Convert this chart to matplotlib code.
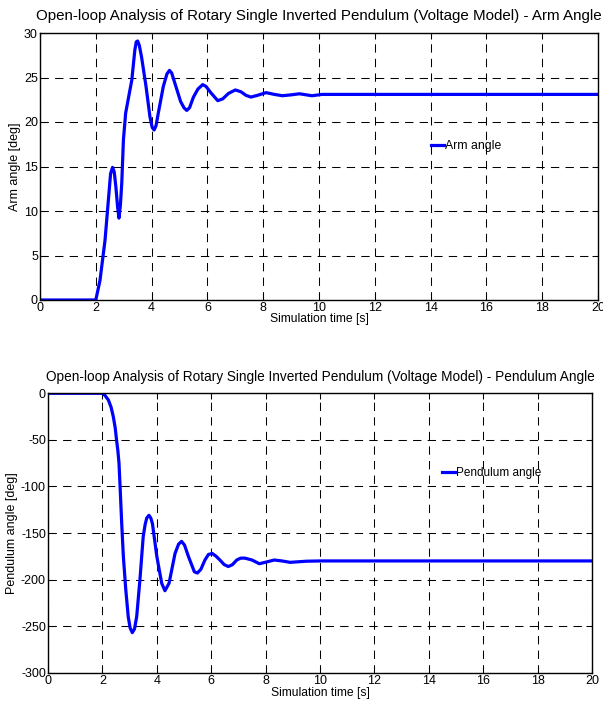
import numpy as np
import matplotlib
matplotlib.use('Agg')
import matplotlib.pyplot as plt

plt.rcParams['font.family'] = ['Liberation Sans', 'DejaVu Sans']
plt.rcParams['axes.unicode_minus'] = False

# arm angle [s], [deg]
arm_t = [0, 2.0, 2.15, 2.33, 2.45, 2.53, 2.60, 2.66, 2.72, 2.78, 2.83, 2.88, 2.93, 2.99,
         3.07, 3.20, 3.29, 3.40, 3.45, 3.50, 3.56, 3.64, 3.80, 3.94, 4.02, 4.09, 4.16,
         4.24, 4.42, 4.55, 4.64, 4.72, 4.84, 5.04, 5.16, 5.26, 5.36, 5.50, 5.66, 5.83,
         5.95, 6.12, 6.37, 6.55, 6.75, 7.0, 7.2, 7.38, 7.56, 7.8, 8.1, 8.4, 8.69, 9.0,
         9.3, 9.75, 10.1, 10.5, 12, 14, 16, 18, 20]
arm_deg = [0, 0.0, 2.2, 6.7, 11.2, 14.2, 14.9, 14.4, 12.7, 10.5, 9.2, 10.6, 13.1, 18.0,
           21.0, 23.2, 24.7, 28.1, 29.0, 29.1, 28.6, 27.3, 24.0, 20.6, 19.4, 19.1, 19.6,
           21.0, 24.0, 25.4, 25.8, 25.5, 24.3, 22.3, 21.6, 21.3, 21.6, 22.8, 23.7, 24.2,
           24.0, 23.3, 22.4, 22.6, 23.2, 23.6, 23.4, 23.0, 22.8, 23.0, 23.3, 23.1, 22.95, 23.05,
           23.17, 22.95, 23.1, 23.1, 23.1, 23.1, 23.1, 23.1, 23.1]

# pendulum angle [s], [deg]
pend_t = [0, 2.0, 2.1, 2.22, 2.32, 2.40, 2.47, 2.52, 2.57, 2.61, 2.65, 2.71, 2.77, 2.86,
          2.95, 3.02, 3.10, 3.18, 3.26, 3.38, 3.50, 3.57, 3.63, 3.71, 3.78, 3.84, 4.0,
          4.18, 4.30, 4.45, 4.67, 4.80, 4.91, 5.02, 5.16, 5.38, 5.49, 5.62, 5.77, 5.90,
          6.04, 6.18, 6.32, 6.48, 6.63, 6.78, 6.94, 7.08, 7.24, 7.5, 7.77, 8.05, 8.32,
          8.6, 8.90, 9.5, 10.0, 12, 14, 16, 18, 20]
pend_deg = [0, 0.0, -2.5, -7.2, -15, -25, -37, -50, -62, -75, -100, -140, -175, -211,
            -240, -252, -257, -253, -240, -200, -154, -141, -134, -131, -134, -140, -175,
            -204, -212, -204, -172, -162, -159, -163, -175, -191.6, -193, -189, -179, -173,
            -172, -175, -179, -184, -186, -184, -179, -177, -177, -179, -183, -181, -179,
            -180, -181.5, -180.3, -180, -180, -180, -180, -180, -180]

x_ticks = np.arange(0, 21, 2)
arm_ticks = np.arange(0, 31, 5)
pend_ticks = np.arange(-300, 1, 50)

title_arm = 'Open-loop Analysis of Rotary Single Inverted Pendulum (Voltage Model) - Arm Angle'
title_pend = 'Open-loop Analysis of Rotary Single Inverted Pendulum (Voltage Model) - Pendulum Angle'

fig = plt.figure(figsize=(6.03, 7.04), dpi=100)
ax1 = fig.add_axes([40/603, 1-300/704, 558/603, 267/704])
ax2 = fig.add_axes([48/603, 1-672.7/704, 544/603, 279.4/704])


def style(ax, yticks):
    ax.set_xlim(0, 20)
    ax.set_ylim(yticks[0], yticks[-1])
    ax.set_xticks(x_ticks)
    ax.set_yticks(yticks)
    ax.grid(True, color='black', linestyle=(0, (8, 6)), linewidth=0.75)
    ax.tick_params(direction='in', length=4, width=0.75, top=True, right=True,
                   labelsize=9, pad=1.5, colors='black')
    for s in ax.spines.values():
        s.set_linewidth(1.0)


ax1.plot(arm_t, arm_deg, color='#0000ff', lw=2.3, label='Arm angle')
style(ax1, arm_ticks)
ax1.set_title(title_arm, fontsize=10.9, pad=9.5)
ax1.set_xlabel('Simulation time [s]', fontsize=8.7, labelpad=-0.5)
ax1.set_ylabel('Arm angle [deg]', fontsize=9, labelpad=2)
ax1.legend(loc='center left', bbox_to_anchor=(14.0, 17.3), bbox_transform=ax1.transData,
           frameon=False, fontsize=8.8, handlelength=1.1, handletextpad=0.05, borderpad=0,
           borderaxespad=0)

ax2.plot(pend_t, pend_deg, color='#0000ff', lw=2.3, label='Pendulum angle')
style(ax2, pend_ticks)
ax2.set_title(title_pend, fontsize=9.85, pad=8.5)
ax2.set_xlabel('Simulation time [s]', fontsize=8.7, labelpad=0.5)
ax2.set_ylabel('Pendulum angle [deg]', fontsize=9, labelpad=2)
ax2.legend(loc='center left', bbox_to_anchor=(14.5, -85.6), bbox_transform=ax2.transData,
           frameon=False, fontsize=8.5, handlelength=1.1, handletextpad=0.05, borderpad=0,
           borderaxespad=0)

fig.savefig('out.png', dpi=100)
